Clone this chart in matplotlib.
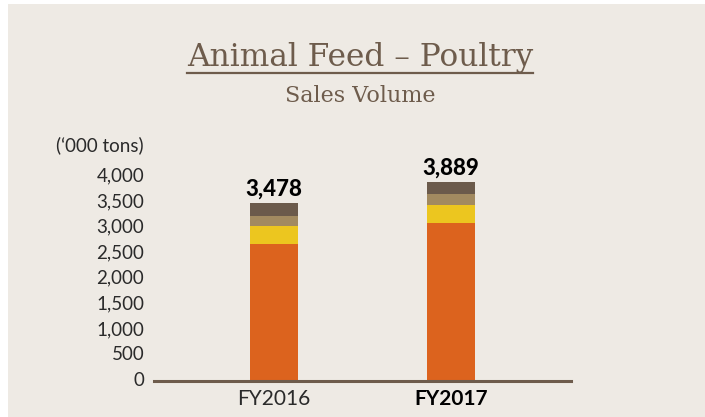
import matplotlib
matplotlib.use("Agg")
import matplotlib.pyplot as plt
import matplotlib.transforms as mtransforms
from matplotlib.patches import Rectangle
from matplotlib.lines import Line2D

years = ["FY2016", "FY2017"]
totals = [3478, 3889]
# stacked segments, bottom to top
seg_orange = [2690, 3100]
seg_yellow = [335, 335]
seg_tan = [195, 215]
seg_dark = [258, 239]
yticks = [0, 500, 1000, 1500, 2000, 2500, 3000, 3500, 4000]

bg = "#eeeae4"
brown = "#6e5c4c"
colors = ["#dc631e", "#ecc61f", "#a28a60", "#6b5a4b"]
tickcol = "#2a2a2a"

W, H = 705, 417
fig = plt.figure(figsize=(W / 100, H / 100), dpi=100)
fig.patch.set_facecolor("white")
fig.add_artist(Rectangle((8 / W, 0), 1 - 8 / W, (H - 4) / H, transform=fig.transFigure,
                         facecolor=bg, edgecolor="none", zorder=-1))

# axes: x from 154px to 571px, y from 381px (bottom) up by 230px
ax = fig.add_axes([154 / W, (H - 381) / H, (571 - 154) / W, 230 / H])
ax.set_facecolor("none")

x = [0, 1]
bw = 0.271
bottom = [0, 0]
for seg, c in zip([seg_orange, seg_yellow, seg_tan, seg_dark], colors):
    ax.bar(x, seg, bw, bottom=bottom, color=c, zorder=2)
    bottom = [b + s for b, s in zip(bottom, seg)]

ax.set_xlim(-0.678, 1.678)
ax.set_ylim(0, 4500)

for s in ["top", "right", "left"]:
    ax.spines[s].set_visible(False)
ax.spines["bottom"].set_color(brown)
ax.spines["bottom"].set_linewidth(2.2)
ax.spines["bottom"].set_zorder(3)

ax.set_yticks(yticks)
ax.set_yticklabels([f"{v:,}" for v in yticks], family="Lato", fontsize=13.5, color=tickcol)
ax.set_xticks(x)
ax.set_xticklabels(years, family="Lato", fontsize=15, color=tickcol)
ax.get_xticklabels()[1].set_fontweight("bold")
ax.get_xticklabels()[1].set_color("black")
ax.tick_params(axis="both", length=0)
ax.tick_params(axis="y", pad=7)
ax.tick_params(axis="x", pad=6)
shift = mtransforms.ScaledTranslation(0, 2 / 100, fig.dpi_scale_trans)
for lbl in ax.get_yticklabels():
    lbl.set_transform(lbl.get_transform() + shift)

# value labels above bars
for xi, t in zip(x, totals):
    ax.annotate(f"{t:,}", (xi, t), xytext=(0, 2.5), textcoords="offset points",
                ha="center", va="bottom", family="Lato", fontweight="black",
                fontsize=16, color="black")

fig.text(144 / W, 1 - 145 / H, "(\u2018000 tons)", ha="right", va="center",
         family="Lato", fontsize=13.5, color=tickcol)

# title with underline
title = fig.text(360 / W, 1 - 66 / H, "Animal Feed \u2013 Poultry", ha="center",
                 va="baseline", family="DejaVu Serif", fontsize=22.5, color=brown)
fig.text(360 / W, 1 - 102 / H, "Sales Volume", ha="center", va="baseline",
         family="DejaVu Serif", fontsize=16, color=brown)
fig.canvas.draw()
bb = title.get_window_extent()
fig.add_artist(Line2D([bb.x0 / W, bb.x1 / W], [1 - 72.7 / H] * 2, transform=fig.transFigure,
                      color=brown, linewidth=1.6))

fig.savefig("out.png", dpi=100, facecolor=fig.get_facecolor())
